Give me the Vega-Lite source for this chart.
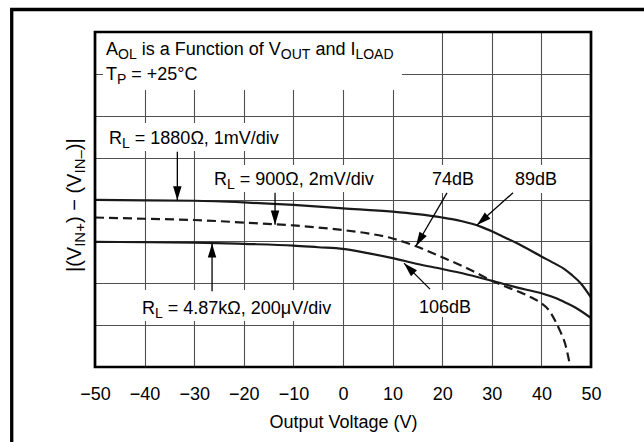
{
  "$schema": "https://vega.github.io/schema/vega-lite/v6.json",
  "width": 496,
  "height": 335,
  "autosize": {"type": "none"},
  "padding": {"left": 95, "top": 32, "right": 53, "bottom": 75},
  "background": "white",
  "config": {
    "font": "Liberation Sans",
    "view": {"stroke": null},
    "axis": {"gridColor": "#505050", "gridWidth": 1.1, "gridOpacity": 1}
  },
  "datasets": {
    "boxes": [
      {"x": -48.39, "x2": 11.9, "y": 6.615, "y2": 8},
      {"x": -50, "x2": -10.89, "y": 5.158, "y2": 5.827},
      {"x": -27.82, "x2": 8.47, "y": 4.179, "y2": 4.824},
      {"x": 16.94, "x2": 27.42, "y": 4.155, "y2": 4.824},
      {"x": 33.67, "x2": 44.36, "y": 4.155, "y2": 4.824},
      {"x": 14.32, "x2": 27.02, "y": 1.194, "y2": 1.839},
      {"x": -41.73, "x2": -1.82, "y": 1.099, "y2": 1.839}
    ],
    "curves": [
      {"s": "1880", "x": -50, "y": 3.99}, {"s": "1880", "x": -40, "y": 3.98}, {"s": "1880", "x": -30, "y": 3.97},
      {"s": "1880", "x": -20, "y": 3.93}, {"s": "1880", "x": -10, "y": 3.87}, {"s": "1880", "x": 0, "y": 3.79},
      {"s": "1880", "x": 10, "y": 3.71}, {"s": "1880", "x": 15, "y": 3.65}, {"s": "1880", "x": 20, "y": 3.57},
      {"s": "1880", "x": 22, "y": 3.53}, {"s": "1880", "x": 24, "y": 3.48}, {"s": "1880", "x": 26, "y": 3.42},
      {"s": "1880", "x": 28, "y": 3.34}, {"s": "1880", "x": 30, "y": 3.24}, {"s": "1880", "x": 32, "y": 3.13},
      {"s": "1880", "x": 35, "y": 2.96}, {"s": "1880", "x": 40, "y": 2.64}, {"s": "1880", "x": 43, "y": 2.45},
      {"s": "1880", "x": 44.5, "y": 2.35}, {"s": "1880", "x": 46, "y": 2.21}, {"s": "1880", "x": 48, "y": 1.99},
      {"s": "1880", "x": 50, "y": 1.66},
      {"s": "4870", "x": -50, "y": 2.99}, {"s": "4870", "x": -40, "y": 2.98}, {"s": "4870", "x": -30, "y": 2.97},
      {"s": "4870", "x": -20, "y": 2.94}, {"s": "4870", "x": -10, "y": 2.9}, {"s": "4870", "x": -5, "y": 2.86},
      {"s": "4870", "x": 0, "y": 2.82}, {"s": "4870", "x": 5, "y": 2.72}, {"s": "4870", "x": 10, "y": 2.6},
      {"s": "4870", "x": 15, "y": 2.46}, {"s": "4870", "x": 20, "y": 2.34}, {"s": "4870", "x": 25, "y": 2.21},
      {"s": "4870", "x": 30, "y": 2.06}, {"s": "4870", "x": 35, "y": 1.9}, {"s": "4870", "x": 40, "y": 1.76},
      {"s": "4870", "x": 43, "y": 1.64}, {"s": "4870", "x": 45, "y": 1.53}, {"s": "4870", "x": 47, "y": 1.41},
      {"s": "4870", "x": 50, "y": 1.17}
    ],
    "dashed": [
      {"x": -50, "y": 3.57}, {"x": -40, "y": 3.54}, {"x": -30, "y": 3.51}, {"x": -20, "y": 3.45},
      {"x": -10, "y": 3.38}, {"x": 0, "y": 3.27}, {"x": 5, "y": 3.19}, {"x": 10, "y": 3.07},
      {"x": 15, "y": 2.87}, {"x": 20, "y": 2.62}, {"x": 25, "y": 2.36}, {"x": 28, "y": 2.18},
      {"x": 30, "y": 2.06}, {"x": 33, "y": 1.91}, {"x": 36, "y": 1.77}, {"x": 38, "y": 1.66},
      {"x": 40, "y": 1.52}, {"x": 41.5, "y": 1.36}, {"x": 42.7, "y": 1.12}, {"x": 43.8, "y": 0.85},
      {"x": 44.8, "y": 0.55}, {"x": 45.8, "y": 0.02}
    ],
    "arrows": [
      {"x": -33.4, "y": 5.14, "x2": -33.4, "y2": 3.98, "a": 180},
      {"x": -13.7, "y": 4.16, "x2": -13.7, "y2": 3.4, "a": 180},
      {"x": -26.4, "y": 1.81, "x2": -26.4, "y2": 2.95, "a": 0},
      {"x": 20.97, "y": 4.16, "x2": 14.72, "y2": 2.89, "a": 210.3},
      {"x": 34.27, "y": 4.16, "x2": 27.02, "y2": 3.39, "a": 228.4},
      {"x": 17.54, "y": 1.86, "x2": 12.3, "y2": 2.48, "a": 315}
    ],
    "mainText": [
      {"t": "A", "x": -47.78, "y": 7.439},
      {"t": "is a Function of V", "x": -40.58, "y": 7.439},
      {"t": "and I", "x": -5.56, "y": 7.439},
      {"t": "T", "x": -47.78, "y": 6.842},
      {"t": "= +25°C", "x": -42.68, "y": 6.842},
      {"t": "R", "x": -47.18, "y": 5.325},
      {"t": "= 1880Ω, 1mV/div", "x": -41.97, "y": 5.325},
      {"t": "R", "x": -26.01, "y": 4.358},
      {"t": "= 900Ω, 2mV/div", "x": -20.81, "y": 4.358},
      {"t": "R", "x": -40.52, "y": 1.266},
      {"t": "= 4.87kΩ, 200μV/div", "x": -35.32, "y": 1.266},
      {"t": "74dB", "x": 17.94, "y": 4.346},
      {"t": "89dB", "x": 34.68, "y": 4.346},
      {"t": "106dB", "x": 15.32, "y": 1.301}
    ],
    "subText": [
      {"t": "OL", "x": -45.36, "y": 7.439},
      {"t": "OUT", "x": -12.54, "y": 7.439},
      {"t": "LOAD", "x": 2.5, "y": 7.439},
      {"t": "P", "x": -45.57, "y": 6.842},
      {"t": "L", "x": -44.56, "y": 5.325},
      {"t": "L", "x": -23.39, "y": 4.358},
      {"t": "L", "x": -37.9, "y": 1.266}
    ],
    "yTitleMain": [
      {"t": "|(V", "y": 2.269},
      {"t": ") − (V", "y": 3.439},
      {"t": ")|", "y": 5.177}
    ],
    "yTitleSub": [
      {"t": "IN+", "y": 2.87},
      {"t": "IN–", "y": 4.621}
    ]
  },
  "layer": [
    {
      "data": {"name": "boxes"},
      "mark": {"type": "rect", "fill": "white", "strokeWidth": 0},
      "encoding": {
        "x": {
          "field": "x", "type": "quantitative",
          "scale": {"domain": [-50, 50], "nice": false, "zero": false},
          "axis": {
            "title": "Output Voltage (V)", "values": [-50, -40, -30, -20, -10, 0, 10, 20, 30, 40, 50],
            "grid": true, "ticks": false, "domain": false, "labelFontSize": 18, "labelColor": "black",
            "labelFlush": false, "labelOverlap": false, "labelBound": false,
            "labelPadding": 18, "titleFontSize": 18, "titleFontWeight": "normal", "titleColor": "black",
            "titlePadding": 10
          }
        },
        "x2": {"field": "x2"},
        "y": {
          "field": "y", "type": "quantitative",
          "scale": {"domain": [0, 8], "nice": false, "zero": false},
          "axis": {"title": null, "values": [0, 1, 2, 3, 4, 5, 6, 7, 8], "grid": true, "ticks": false, "domain": false, "labels": false}
        },
        "y2": {"field": "y2"}
      }
    },
    {
      "data": {"name": "curves"},
      "mark": {"type": "line", "color": "#1a1a1a", "strokeWidth": 2.2, "interpolate": "monotone"},
      "encoding": {
        "x": {"field": "x", "type": "quantitative", "scale": {"domain": [-50, 50], "nice": false, "zero": false}},
        "y": {"field": "y", "type": "quantitative", "scale": {"domain": [0, 8], "nice": false, "zero": false}},
        "detail": {"field": "s"}
      }
    },
    {
      "data": {"name": "dashed"},
      "mark": {"type": "line", "color": "#1a1a1a", "strokeWidth": 2.2, "strokeDash": [9, 5], "interpolate": "monotone"},
      "encoding": {
        "x": {"field": "x", "type": "quantitative", "scale": {"domain": [-50, 50], "nice": false, "zero": false}},
        "y": {"field": "y", "type": "quantitative", "scale": {"domain": [0, 8], "nice": false, "zero": false}}
      }
    },
    {
      "data": {"name": "arrows"},
      "mark": {"type": "rule", "color": "black", "strokeWidth": 1.3},
      "encoding": {
        "x": {"field": "x", "type": "quantitative", "scale": {"domain": [-50, 50], "nice": false, "zero": false}},
        "y": {"field": "y", "type": "quantitative", "scale": {"domain": [0, 8], "nice": false, "zero": false}},
        "x2": {"field": "x2"},
        "y2": {"field": "y2"}
      }
    },
    {
      "data": {"name": "arrows"},
      "mark": {"type": "point", "shape": "M0,0L-0.6,2L0.6,2Z", "filled": true, "color": "black", "size": 200, "opacity": 1, "strokeWidth": 0},
      "encoding": {
        "x": {"field": "x2", "type": "quantitative", "scale": {"domain": [-50, 50], "nice": false, "zero": false}},
        "y": {"field": "y2", "type": "quantitative", "scale": {"domain": [0, 8], "nice": false, "zero": false}},
        "angle": {"field": "a", "type": "quantitative", "scale": null}
      }
    },
    {
      "data": {"name": "mainText"},
      "mark": {"type": "text", "align": "left", "baseline": "alphabetic", "fontSize": 18, "color": "black"},
      "encoding": {
        "x": {"field": "x", "type": "quantitative", "scale": {"domain": [-50, 50], "nice": false, "zero": false}},
        "y": {"field": "y", "type": "quantitative", "scale": {"domain": [0, 8], "nice": false, "zero": false}},
        "text": {"field": "t"}
      }
    },
    {
      "data": {"name": "subText"},
      "mark": {"type": "text", "align": "left", "baseline": "alphabetic", "fontSize": 14, "dy": 4, "color": "black"},
      "encoding": {
        "x": {"field": "x", "type": "quantitative", "scale": {"domain": [-50, 50], "nice": false, "zero": false}},
        "y": {"field": "y", "type": "quantitative", "scale": {"domain": [0, 8], "nice": false, "zero": false}},
        "text": {"field": "t"}
      }
    },
    {
      "data": {"name": "yTitleMain"},
      "mark": {"type": "text", "align": "left", "baseline": "alphabetic", "fontSize": 20, "angle": 270, "color": "black"},
      "encoding": {
        "x": {"datum": -52.92, "type": "quantitative", "scale": {"domain": [-50, 50], "nice": false, "zero": false}},
        "y": {"field": "y", "type": "quantitative", "scale": {"domain": [0, 8], "nice": false, "zero": false}},
        "text": {"field": "t"}
      }
    },
    {
      "data": {"name": "yTitleSub"},
      "mark": {"type": "text", "align": "left", "baseline": "alphabetic", "fontSize": 15, "angle": 270, "dy": 4, "color": "black"},
      "encoding": {
        "x": {"datum": -52.92, "type": "quantitative", "scale": {"domain": [-50, 50], "nice": false, "zero": false}},
        "y": {"field": "y", "type": "quantitative", "scale": {"domain": [0, 8], "nice": false, "zero": false}},
        "text": {"field": "t"}
      }
    },
    {
      "data": {"values": [{}]},
      "mark": {"type": "rect", "fill": null, "fillOpacity": 0, "stroke": "black", "strokeWidth": 2.7},
      "encoding": {
        "x": {"datum": -50, "type": "quantitative", "scale": {"domain": [-50, 50], "nice": false, "zero": false}},
        "x2": {"datum": 50},
        "y": {"datum": 0, "type": "quantitative", "scale": {"domain": [0, 8], "nice": false, "zero": false}},
        "y2": {"datum": 8}
      }
    },
    {
      "data": {"values": [{}]},
      "mark": {"type": "rect", "fill": null, "fillOpacity": 0, "stroke": "black", "strokeWidth": 3.3},
      "encoding": {
        "x": {"datum": -66.79, "type": "quantitative", "scale": {"domain": [-50, 50], "nice": false, "zero": false}},
        "x2": {"datum": 80},
        "y": {"datum": 8.537, "type": "quantitative", "scale": {"domain": [0, 8], "nice": false, "zero": false}},
        "y2": {"datum": -3}
      }
    }
  ]
}
